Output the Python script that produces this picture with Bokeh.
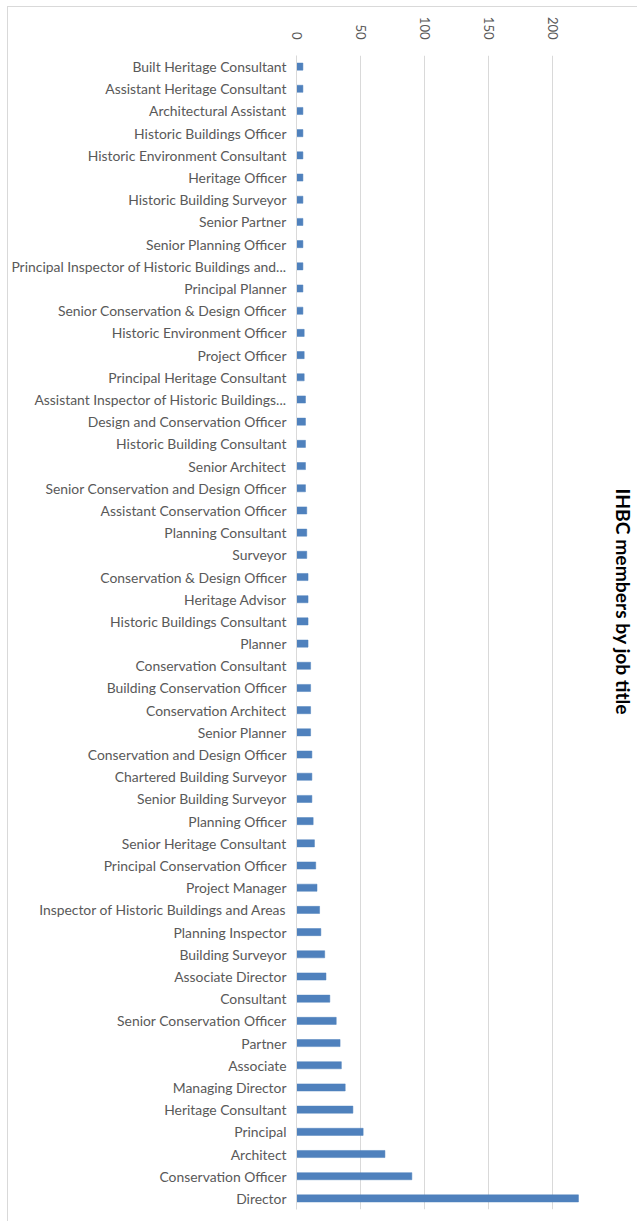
import math
from bokeh.plotting import figure
from bokeh.models import ColumnDataSource, FactorRange, Range1d, Title, FixedTicker
from bokeh.embed import file_html
from bokeh.resources import INLINE

job_titles = [
    "Built Heritage Consultant", "Assistant Heritage Consultant", "Architectural Assistant",
    "Historic Buildings Officer", "Historic Environment Consultant", "Heritage Officer",
    "Historic Building Surveyor", "Senior Partner", "Senior Planning Officer",
    "Principal Inspector of Historic Buildings and...", "Principal Planner",
    "Senior Conservation & Design Officer", "Historic Environment Officer", "Project Officer",
    "Principal Heritage Consultant", "Assistant Inspector of Historic Buildings...",
    "Design and Conservation Officer", "Historic Building Consultant", "Senior Architect",
    "Senior Conservation and Design Officer", "Assistant Conservation Officer",
    "Planning Consultant", "Surveyor", "Conservation & Design Officer", "Heritage Advisor",
    "Historic Buildings Consultant", "Planner", "Conservation Consultant",
    "Building Conservation Officer", "Conservation Architect", "Senior Planner",
    "Conservation and Design Officer", "Chartered Building Surveyor", "Senior Building Surveyor",
    "Planning Officer", "Senior Heritage Consultant", "Principal Conservation Officer",
    "Project Manager", "Inspector of Historic Buildings and Areas", "Planning Inspector",
    "Building Surveyor", "Associate Director", "Consultant", "Senior Conservation Officer",
    "Partner", "Associate", "Managing Director", "Heritage Consultant", "Principal",
    "Architect", "Conservation Officer", "Director",
]
members = [
    5, 5, 5, 5, 5, 5, 5, 5, 5, 5, 5, 5,
    6, 6, 6,
    7, 7, 7, 7, 7,
    8, 8, 8,
    9, 9, 9, 9,
    11, 11, 11, 11,
    12, 12, 12,
    13, 14, 15, 16, 18, 19, 22, 23, 26, 31, 34, 35, 38, 44, 52, 69, 90, 220,
]
x_ticks = [0, 50, 100, 150, 200]

source = ColumnDataSource(dict(title=job_titles, n=members))

p = figure(
    width=630, height=1215,
    y_range=FactorRange(*list(reversed(job_titles)), range_padding=0),
    x_range=Range1d(0, 245),
    output_backend="svg", toolbar_location=None,
    x_axis_location="above",
    min_border_left=280, min_border_right=26, min_border_top=48, min_border_bottom=13,
    styles={"border-left": "1px solid #d9d9d9", "border-top": "1px solid #d9d9d9",
            "margin-left": "7px", "margin-top": "6px"},
)
p.outline_line_color = None
p.background_fill_color = "white"
p.border_fill_color = "white"

p.hbar(y="title", right="n", left=0, height=0.32, source=source,
       fill_color="#4F81BD", line_color="#4F81BD", line_width=0.5)

# x axis (top)
xa = p.xaxis[0]
xa.ticker = FixedTicker(ticks=x_ticks)
xa.axis_line_color = None
xa.major_tick_line_color = None
xa.minor_tick_line_color = None
xa.major_label_orientation = -math.pi / 2
xa.major_label_text_font = "Lato"
xa.major_label_text_font_size = "13px"
xa.major_label_text_color = "#595959"
xa.major_label_standoff = 10

# y axis (categories)
ya = p.yaxis[0]
ya.axis_line_color = "#d9d9d9"
ya.major_tick_line_color = None
ya.minor_tick_line_color = None
ya.major_label_text_font = "Lato"
ya.major_label_text_font_size = "13.9px"
ya.major_label_text_color = "#595959"
ya.major_label_standoff = 4

p.xgrid.grid_line_color = "#d9d9d9"
p.xgrid.ticker = FixedTicker(ticks=[50, 100, 150, 200])
p.ygrid.grid_line_color = None

t = Title(text="IHBC members by job title", text_font="Lato", text_font_size="19.3px",
          text_font_style="bold", text_color="black", align="left", standoff=3,
          offset=433)
p.add_layout(t, "right")

open("out.html", "w").write(file_html(p, INLINE))
